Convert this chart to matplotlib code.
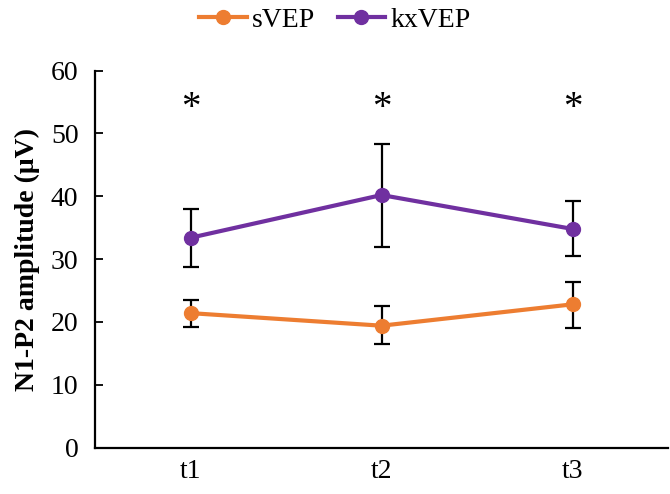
import matplotlib
matplotlib.use("Agg")
import matplotlib.pyplot as plt
import numpy as np

plt.rcParams["font.family"] = ["Liberation Serif", "DejaVu Serif"]

times = ["t1", "t2", "t3"]
svep = [21.4, 19.4, 22.8]
svep_lo = [19.2, 16.5, 19.1]
svep_hi = [23.5, 22.5, 26.3]
kxvep = [33.4, 40.2, 34.8]
kxvep_lo = [28.8, 32.0, 30.5]
kxvep_hi = [38.0, 48.3, 39.2]
star_y = 54

x = np.arange(len(times))
fig = plt.figure(figsize=(6.7, 4.94), dpi=100)
ax = fig.add_axes([0.142, 0.094, 0.855, 0.763])

def draw(vals, lo, hi, color, label):
    vals = np.array(vals)
    yerr = [vals - np.array(lo), np.array(hi) - vals]
    ax.errorbar(x, vals, yerr=yerr, fmt="none", ecolor="black", elinewidth=1.6,
                capsize=6, capthick=1.6, zorder=2)
    ax.plot(x, vals, color=color, lw=3, marker="o", ms=10, label=label, zorder=3)

draw(svep, svep_lo, svep_hi, "#ED7D31", "sVEP")
draw(kxvep, kxvep_lo, kxvep_hi, "#7030A0", "kxVEP")

for xi in x:
    ax.text(xi, star_y, "*", ha="center", va="center", fontsize=28)

ax.set_xlim(-0.5, 2.5)
ax.set_ylim(0, 60)
ax.set_yticks(range(0, 61, 10))
ax.set_xticks(x)
ax.set_xticklabels(times)
ax.tick_params(axis="y", direction="in", length=6, width=1.3, labelsize=20, pad=12)
ax.tick_params(axis="x", length=0, labelsize=20, pad=8)
for s in ["top", "right"]:
    ax.spines[s].set_visible(False)
for s in ["left", "bottom"]:
    ax.spines[s].set_linewidth(1.6)
ax.set_ylabel("N1-P2 amplitude (μV)", fontsize=20, fontweight="bold", labelpad=8)
fig.legend(loc="upper center", bbox_to_anchor=(0.5, 1.035), ncol=2, frameon=False,
           fontsize=20, handlelength=1.7, columnspacing=0.8, handletextpad=0.2)

fig.savefig("out.png", dpi=100)
